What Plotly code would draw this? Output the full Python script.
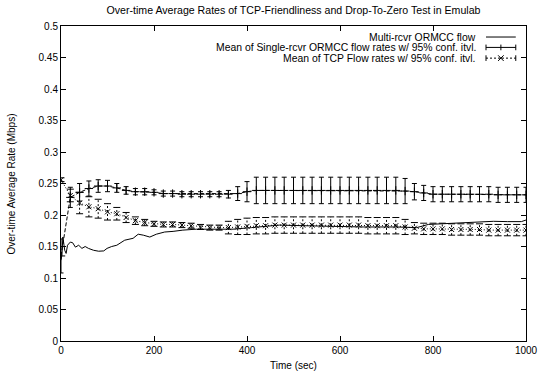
import plotly.graph_objects as go

title_text = "Over-time Average Rates of TCP-Friendliness and Drop-To-Zero Test in Emulab"
x_title = "Time (sec)"
y_title = "Over-time Average Rate (Mbps)"
legend_labels = [
    "Multi-rcvr ORMCC flow",
    "Mean of Single-rcvr ORMCC flow rates w/ 95% conf. itvl.",
    "Mean of TCP Flow rates w/ 95% conf. itvl.",
]

x_ticks = [0, 200, 400, 600, 800, 1000]

sample_time = [0, 20, 40, 60, 80, 100, 120, 140, 160, 180, 200, 220, 240, 260, 280,
               300, 320, 340, 360, 380, 400, 420, 440, 460, 480, 500, 520, 540, 560,
               580, 600, 620, 640, 660, 680, 700, 720, 740, 760, 780, 800, 820, 840,
               860, 880, 900, 920, 940, 960, 980, 1000]

single_mean = [0.135, 0.228, 0.236, 0.242, 0.246, 0.246, 0.243, 0.239, 0.237, 0.237,
               0.236, 0.234, 0.234, 0.233, 0.233, 0.233, 0.233, 0.233, 0.233, 0.234,
               0.237, 0.239, 0.239, 0.239, 0.239, 0.239, 0.239, 0.239, 0.239, 0.239,
               0.239, 0.239, 0.239, 0.239, 0.239, 0.239, 0.239, 0.238, 0.237, 0.235,
               0.233, 0.233, 0.233, 0.233, 0.233, 0.233, 0.233, 0.232, 0.232, 0.232,
               0.232]
single_ci = [0.027, 0.016, 0.014, 0.012, 0.010, 0.009, 0.007, 0.006, 0.005, 0.005,
             0.004, 0.004, 0.004, 0.004, 0.004, 0.004, 0.004, 0.004, 0.006, 0.011,
             0.016, 0.021, 0.021, 0.021, 0.021, 0.021, 0.021, 0.021, 0.021, 0.021,
             0.021, 0.021, 0.021, 0.021, 0.021, 0.021, 0.021, 0.020, 0.013, 0.012,
             0.012, 0.012, 0.012, 0.012, 0.012, 0.012, 0.012, 0.012, 0.012, 0.012,
             0.012]

tcp_mean = [0.256, 0.231, 0.219, 0.213, 0.210, 0.205, 0.202, 0.196, 0.191, 0.188,
            0.186, 0.185, 0.185, 0.184, 0.183, 0.181, 0.180, 0.180, 0.180, 0.181,
            0.182, 0.183, 0.183, 0.184, 0.184, 0.184, 0.184, 0.184, 0.184, 0.184,
            0.184, 0.184, 0.184, 0.183, 0.183, 0.183, 0.183, 0.181, 0.179, 0.178,
            0.178, 0.178, 0.177, 0.177, 0.177, 0.177, 0.176, 0.176, 0.176, 0.176,
            0.176]
tcp_ci = [0.003, 0.010, 0.017, 0.016, 0.015, 0.013, 0.010, 0.008, 0.006, 0.005,
          0.004, 0.004, 0.004, 0.004, 0.004, 0.004, 0.004, 0.004, 0.010, 0.012,
          0.013, 0.013, 0.013, 0.013, 0.013, 0.013, 0.013, 0.013, 0.013, 0.013,
          0.013, 0.013, 0.013, 0.013, 0.013, 0.013, 0.013, 0.012, 0.009, 0.009,
          0.009, 0.009, 0.009, 0.009, 0.009, 0.009, 0.009, 0.009, 0.009, 0.009,
          0.009]

multi_time = [0, 2, 4, 8, 11, 14, 20, 25, 31, 38, 45, 52, 59, 70, 81, 92, 99, 109,
              120, 137, 155, 166, 177, 191, 205, 223, 241, 262, 291, 330, 370, 410,
              441, 470, 520, 580, 650, 720, 765, 790, 820, 860, 900, 930, 960, 990, 1000]
multi_rate = [0.130, 0.136, 0.165, 0.144, 0.139, 0.152, 0.157, 0.156, 0.149, 0.152,
              0.147, 0.150, 0.147, 0.144, 0.1425, 0.143, 0.147, 0.150, 0.152, 0.160,
              0.163, 0.1695, 0.168, 0.165, 0.1695, 0.173, 0.174, 0.176, 0.1775, 0.177,
              0.1775, 0.180, 0.182, 0.184, 0.183, 0.182, 0.181, 0.181, 0.180, 0.185,
              0.186, 0.188, 0.189, 0.190, 0.1895, 0.1895, 0.192]

FONT = "Liberation Sans, Arial, Helvetica, sans-serif"

fig = go.Figure()

# Multi-rcvr solid line
fig.add_trace(go.Scatter(
    x=multi_time, y=multi_rate, mode="lines",
    line=dict(color="black", width=1), showlegend=False, hoverinfo="skip"))

# Single-rcvr mean with solid error bars
fig.add_trace(go.Scatter(
    x=sample_time, y=single_mean, mode="lines+markers",
    line=dict(color="black", width=1, dash="4px,2px"),
    marker=dict(symbol="cross-thin", size=6, line=dict(color="black", width=1)),
    error_y=dict(type="data", array=single_ci, visible=True, color="black",
                 thickness=1, width=2.5),
    showlegend=False))

# TCP error bars drawn dashed
bx, by = [], []
for t, m, c in zip(sample_time, tcp_mean, tcp_ci):
    bx += [t, t, None]
    by += [m - c, m + c, None]
fig.add_trace(go.Scatter(
    x=bx, y=by, mode="lines",
    line=dict(color="black", width=1, dash="2px,2px"),
    showlegend=False, hoverinfo="skip"))
cap_x, cap_y = [], []
for t, m, c in zip(sample_time, tcp_mean, tcp_ci):
    cap_x += [t, t]
    cap_y += [m - c, m + c]
fig.add_trace(go.Scatter(
    x=cap_x, y=cap_y, mode="markers",
    marker=dict(symbol="line-ew", size=5, line=dict(color="black", width=1)),
    showlegend=False, hoverinfo="skip"))

# TCP mean line
fig.add_trace(go.Scatter(
    x=sample_time, y=tcp_mean, mode="lines+markers",
    line=dict(color="black", width=1, dash="1px,2px"),
    marker=dict(symbol="x-thin", size=5, line=dict(color="black", width=1)),
    showlegend=False))

# Manual legend (text right-aligned, sample on the right)
row_y = [0.965, 0.932, 0.898]
tx = 0.897
sx0, sx1 = 0.914, 0.978
sm = (sx0 + sx1) / 2
dy = 0.009
dx = 0.006
annotations = []
for lab, yy in zip(legend_labels, row_y):
    annotations.append(dict(text=lab, x=tx, y=yy, xref="x domain", yref="y domain",
                            xanchor="right", yanchor="middle", showarrow=False,
                            font=dict(size=10.4, color="black", family=FONT)))
# axis titles
annotations.append(dict(text=y_title, x=-0.1054, y=0.5, xref="paper", yref="paper",
                        textangle=-90, xanchor="center", yanchor="middle", showarrow=False,
                        font=dict(size=10, color="black", family=FONT)))
annotations.append(dict(text=x_title, x=0.5, y=-0.079, xref="paper", yref="paper",
                        xanchor="center", yanchor="middle", showarrow=False,
                        font=dict(size=10, color="black", family=FONT)))

L = dict(color="black", width=1)
shapes = [
    dict(type="line", xref="x domain", yref="y domain", x0=sx0, x1=sx1, y0=row_y[0], y1=row_y[0], line=L),
    dict(type="line", xref="x domain", yref="y domain", x0=sx0, x1=sx1, y0=row_y[1], y1=row_y[1], line=L),
    dict(type="line", xref="x domain", yref="y domain", x0=sx0, x1=sx0, y0=row_y[1] - dy, y1=row_y[1] + dy, line=L),
    dict(type="line", xref="x domain", yref="y domain", x0=sx1, x1=sx1, y0=row_y[1] - dy, y1=row_y[1] + dy, line=L),
    dict(type="line", xref="x domain", yref="y domain", x0=sm, x1=sm, y0=row_y[1] - dy, y1=row_y[1] + dy, line=L),
    dict(type="line", xref="x domain", yref="y domain", x0=sx0, x1=sx1, y0=row_y[2], y1=row_y[2],
         line=dict(color="black", width=1, dash="2px,2px")),
    dict(type="line", xref="x domain", yref="y domain", x0=sx0, x1=sx0, y0=row_y[2] - dy, y1=row_y[2] + dy, line=L),
    dict(type="line", xref="x domain", yref="y domain", x0=sx1, x1=sx1, y0=row_y[2] - dy, y1=row_y[2] + dy, line=L),
    dict(type="line", xref="x domain", yref="y domain", x0=sm - dx, x1=sm + dx, y0=row_y[2] - dy, y1=row_y[2] + dy, line=L),
    dict(type="line", xref="x domain", yref="y domain", x0=sm - dx, x1=sm + dx, y0=row_y[2] + dy, y1=row_y[2] - dy, line=L),
]

fig.update_layout(
    width=540, height=377,
    margin=dict(l=61, r=14, t=26, b=36),
    paper_bgcolor="white", plot_bgcolor="white",
    font=dict(family=FONT, size=10, color="black"),
    title=dict(text=title_text, x=0.5, xref="paper", y=1 - 10 / 377, yanchor="middle",
               font=dict(size=10.6, family=FONT, color="black")),
    annotations=annotations, shapes=shapes,
    showlegend=False,
)
fig.update_xaxes(
    range=[0, 1000], tickvals=x_ticks, ticks="inside", ticklen=5, tickcolor="black",
    showline=True, linecolor="black", linewidth=1, mirror="allticks",
    showgrid=False, zeroline=False, automargin=False,
    tickfont=dict(size=10))
fig.update_yaxes(
    range=[0, 0.5], dtick=0.05, tick0=0, ticks="inside", ticklen=5, tickcolor="black",
    showline=True, linecolor="black", linewidth=1, mirror="allticks",
    showgrid=False, zeroline=False, automargin=False,
    tickfont=dict(size=10))

fig.write_html("out.html", config={"displayModeBar": False},
               post_script="document.body.style.margin='0px';")
